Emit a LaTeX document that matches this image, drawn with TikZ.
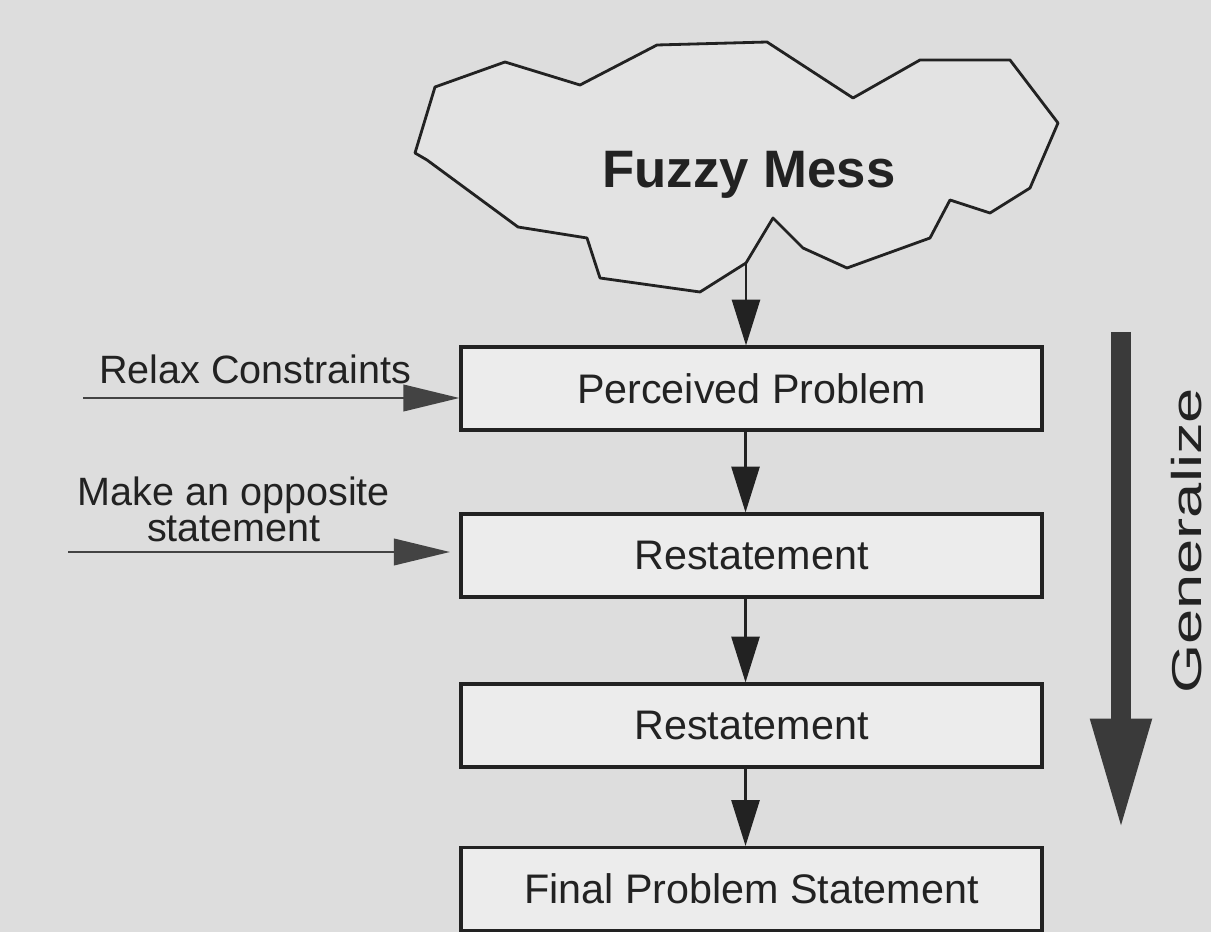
\documentclass[tikz,border=0pt]{standalone}
\usepackage{fontspec}
\setmainfont{Liberation Sans}
\usetikzlibrary{arrows.meta,positioning,calc}
\definecolor{scan}{HTML}{DDDDDD}
\definecolor{boxfill}{HTML}{ECECEC}
\definecolor{cloudfill}{HTML}{E3E3E3}
\definecolor{ink}{HTML}{222222}
\definecolor{bigarrow}{HTML}{3A3A3A}
\tikzset{
  stage/.style={draw=ink, line width=1.8pt, fill=boxfill, text=ink,
    minimum width=11.62cm, minimum height=1.66cm, inner sep=0pt,
    font=\fontsize{23.5}{28}\selectfont},
  flow/.style={draw=ink, line width=1.2pt, -{Triangle[length=26pt,width=16pt]}},
  hint/.style={draw=ink!85, line width=1.7pt, -{Triangle[length=32pt,width=15pt]}},
  hintlabel/.style={text=ink, align=center, font=\fontsize{22.5}{20.5}\selectfont},
}

\begin{document}
\begin{tikzpicture}[x=0.02cm,y=-0.02cm]
\useasboundingbox (0,0) rectangle (1211,932);
\fill[scan] (0,0) rectangle (1211,932);

% the mess
\draw[ink, line width=1.6pt, fill=cloudfill, line join=round]
  (415,153) -- (435,87) -- (505,62) -- (580,85) -- (657,45) -- (767,42)
  -- (853,98) -- (920,60) -- (1010,60) -- (1058,123) -- (1030,188)
  -- (990,213) -- (950,200) -- (930,238) -- (847,268) -- (803,248)
  -- (773,218) -- (746,263) -- (700,292) -- (600,278) -- (587,238)
  -- (518,227) -- (427,160) -- cycle;
\node[text=ink, font=\fontsize{30}{35}\selectfont\bfseries] (fuzzy) at (749,175) {Fuzzy Mess};
\coordinate (exit) at (746,263);

% stages
\node[stage] (pp)  at (751.5,388.5) {Perceived Problem};
\node[stage] (rs1) at (751.5,555.5) {Restatement};
\node[stage] (rs2) at (751.5,725.5) {Restatement};
\node[stage] (fps) at (751.5,889)   {Final Problem Statement};

\draw[flow] (exit) -- (exit |- pp.north);
\draw[flow] ([xshift=-3.4pt]pp.south) -- ([xshift=-3.4pt]rs1.north);
\draw[flow] ([xshift=-3.4pt]rs1.south) -- ([xshift=-3.4pt]rs2.north);
\draw[flow] ([xshift=-3.4pt]rs2.south) -- ([xshift=-3.4pt]fps.north);

% inputs on the left
\node[hintlabel] (relax) at (255,369) {Relax Constraints};
\coordinate (relaxin) at (83,398);
\draw[hint] (relaxin) -- (relaxin -| pp.west);

\node[hintlabel] (opp) at (234,509) {Make an opposite\\statement};
\coordinate (oppin) at (68,552);
\coordinate (opptip) at (450,552);
\draw[hint] (oppin) -- (opptip);

% generalize
\coordinate (gtop) at (1121,332);
\coordinate (gtip) at (1121,832);
\draw[draw=bigarrow, line width=11.9pt, -{Triangle[length=64.6pt,width=31.7pt]}] (gtop) -- (gtip);
\node[rotate=90, text=ink, inner sep=0pt, font=\fontsize{36}{40}\selectfont] (gen) at (1187,541) {\scalebox{1}[0.66]{Generalize}};
\end{tikzpicture}
\end{document}
